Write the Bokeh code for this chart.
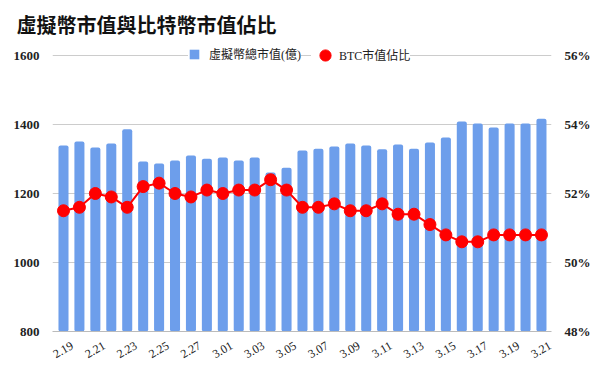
import math
from bokeh.plotting import figure
from bokeh.models import (Range1d, LinearAxis, FixedTicker, PrintfTickFormatter,
                          Legend, LegendItem, ColumnDataSource)
from bokeh.embed import file_html
from bokeh.resources import INLINE

dates = ["2.19", "2.20", "2.21", "2.22", "2.23", "2.24", "2.25", "2.26", "2.27", "2.28",
         "3.01", "3.02", "3.03", "3.04", "3.05", "3.06", "3.07", "3.08", "3.09", "3.10",
         "3.11", "3.12", "3.13", "3.14", "3.15", "3.16", "3.17", "3.18", "3.19", "3.20", "3.21"]
total_cap = [1339, 1351, 1333, 1345, 1386, 1293, 1287, 1296, 1310, 1301,
             1304, 1296, 1304, 1261, 1275, 1325, 1330, 1336, 1345, 1339,
             1328, 1342, 1330, 1348, 1362, 1409, 1403, 1391, 1403, 1403, 1417]
btc_share = [51.5, 51.6, 52.0, 51.9, 51.6, 52.2, 52.3, 52.0, 51.9, 52.1,
             52.0, 52.1, 52.1, 52.4, 52.1, 51.6, 51.6, 51.7, 51.5, 51.5,
             51.7, 51.4, 51.4, 51.1, 50.8, 50.6, 50.6, 50.8, 50.8, 50.8, 50.8]
left_ticks = [800, 1000, 1200, 1400, 1600]
right_ticks = [48, 50, 52, 54, 56]
title_text = "虛擬幣市值與比特幣市值佔比"
bar_label = "虛擬幣總市值(億)"
line_label = "BTC市值佔比"

idx = list(range(len(dates)))
src = ColumnDataSource(dict(x=idx, cap=total_cap, share=btc_share))

X0, X1 = -0.69, 30.63
Y0, Y1 = 800, 1643.5
LAB_SHIFT = 0.55

p = figure(width=600, height=371, output_backend="svg", toolbar_location=None,
           x_range=Range1d(X0, X1), y_range=Range1d(Y0, Y1), x_axis_type=None,
           title=title_text,
           min_border_left=52, min_border_right=49, min_border_top=40, min_border_bottom=40)
p.outline_line_color = None
p.background_fill_color = "white"
p.border_fill_color = "white"
p.ygrid.grid_line_color = "#cccccc"
p.ygrid.ticker = FixedTicker(ticks=left_ticks)

p.title.align = "left"
p.title.offset = -36
p.title.standoff = 3
p.title.text_font = "Noto Sans CJK TC"
p.title.text_font_style = "bold"
p.title.text_font_size = "20px"
p.title.text_color = "#111111"

p.extra_y_ranges = {"pct": Range1d(48, 48 + (Y1 - Y0) / 100.0)}
p.extra_x_ranges = {"lab": Range1d(X0 - LAB_SHIFT, X1 - LAB_SHIFT)}

bars = p.vbar(x="x", top="cap", bottom=0, width=0.63, source=src,
              fill_color="#6d9eeb", line_color=None, border_radius=2)
p.line(x="x", y="share", source=src, y_range_name="pct", line_color="#ff0000", line_width=2)
pts = p.scatter(x="x", y="share", source=src, y_range_name="pct", size=12,
                fill_color="#ff0000", line_color="#ff0000")

# left axis
ya = p.yaxis[0]
ya.ticker = FixedTicker(ticks=left_ticks)
ya.axis_line_color = None
ya.major_tick_line_color = None
ya.minor_tick_line_color = None
ya.major_label_text_font = "Liberation Serif"
ya.major_label_text_font_style = "bold"
ya.major_label_text_font_size = "13px"
ya.major_label_text_color = "#222222"
ya.major_label_standoff = 7

# right axis
ra = LinearAxis(y_range_name="pct", ticker=FixedTicker(ticks=right_ticks),
                formatter=PrintfTickFormatter(format="%d%%"))
ra.axis_line_color = None
ra.major_tick_line_color = None
ra.minor_tick_line_color = None
ra.major_label_text_font = "Liberation Serif"
ra.major_label_text_font_style = "bold"
ra.major_label_text_font_size = "13px"
ra.major_label_text_color = "#222222"
ra.major_label_standoff = 7
p.add_layout(ra, "right")

# x axis (labels every second day)
xa = LinearAxis(x_range_name="lab", ticker=FixedTicker(ticks=idx[::2]))
xa.major_label_overrides = {i: dates[i] for i in idx[::2]}
xa.major_label_orientation = math.pi / 6
xa.axis_line_color = "#bbbbbb"
xa.major_tick_line_color = None
xa.minor_tick_line_color = None
xa.major_label_text_font = "Liberation Serif"
xa.major_label_text_font_size = "12px"
xa.major_label_text_color = "#222222"
xa.major_label_standoff = 7
p.add_layout(xa, "below")

legend_font = "Liberation Serif, Noto Sans CJK TC"
leg_bar = Legend(items=[LegendItem(label=bar_label, renderers=[bars])],
                 orientation="horizontal", location=(136, 268),
                 label_text_font=legend_font, label_text_font_size="12px",
                 label_text_color="#222222",
                 glyph_width=12, glyph_height=12, label_height=12, label_standoff=9,
                 padding=2, margin=0, border_line_color=None,
                 background_fill_color="white", background_fill_alpha=1.0)
p.add_layout(leg_bar)

leg_pts = Legend(items=[LegendItem(label=line_label, renderers=[pts])],
                 orientation="horizontal", location=(259, 262),
                 label_text_font=legend_font, label_text_font_size="12px",
                 label_text_color="#222222",
                 glyph_width=28, glyph_height=28, label_height=28, label_standoff=0,
                 padding=0, margin=0, border_line_color=None,
                 background_fill_color="white", background_fill_alpha=1.0)
p.add_layout(leg_pts)

open("out.html", "w").write(file_html(p, INLINE))
